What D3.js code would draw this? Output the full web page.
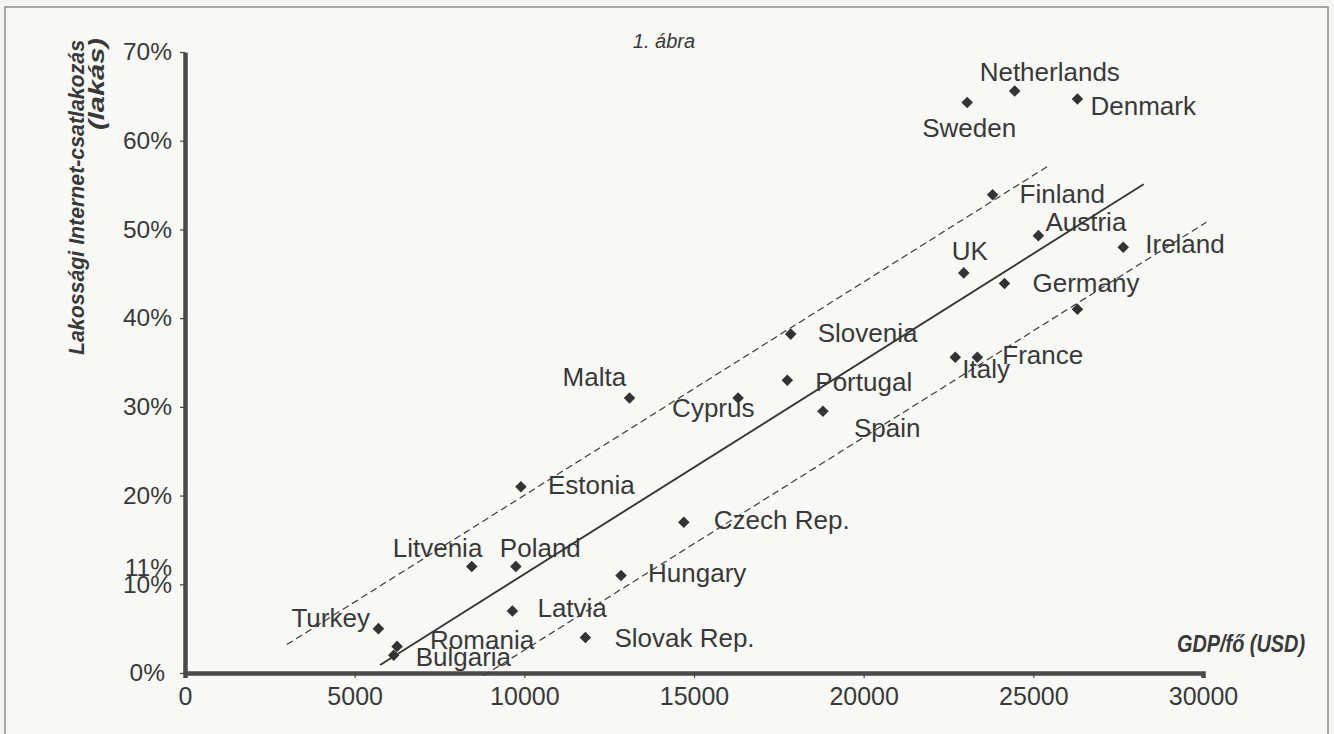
<!DOCTYPE html>
<html>
<head>
<meta charset="utf-8">
<script src="https://cdn.jsdelivr.net/npm/d3@7"></script>
<style>
  html, body { margin: 0; padding: 0; background: #f5f5f3; }
  svg { display: block; }
  text { font-family: "Liberation Sans", Arial, Helvetica, sans-serif; fill: #393939; }
</style>
</head>
<body>
<svg id="chart" width="1334" height="734"></svg>
<script>
// Countries: GDP per capita (USD) and share of households with Internet access
const countries = ["Turkey", "Bulgaria", "Romania", "Litvenia", "Poland", "Latvia", "Estonia",
  "Slovak Rep.", "Hungary", "Malta", "Czech Rep.", "Cyprus", "Portugal", "Slovenia", "Spain",
  "Italy", "France", "UK", "Finland", "Germany", "Austria", "", "Ireland", "Sweden",
  "Netherlands", "Denmark"];
const gdpPerCapita = [5700, 6150, 6250, 8450, 9750, 9650, 9900,
  11800, 12850, 13100, 14700, 16300, 17750, 17850, 18800,
  22700, 23350, 22950, 23800, 24150, 25150, 26300, 27650, 23050,
  24450, 26300];
const internetShare = [0.05, 0.02, 0.03, 0.12, 0.12, 0.07, 0.21,
  0.04, 0.11, 0.31, 0.17, 0.31, 0.33, 0.382, 0.295,
  0.356, 0.356, 0.451, 0.539, 0.439, 0.493, 0.41, 0.48, 0.643,
  0.656, 0.647];

// Regression line and its band (GDP, share)
const trendLine = [[5750, 0.009], [28250, 0.551]];
const upperBand = [[3000, 0.032], [25500, 0.573]];
const lowerBand = [[8800, -0.003], [30100, 0.508]];

// Axis ticks
const xTicks = [0, 5000, 10000, 15000, 20000, 25000, 30000];
const yTicks = [0, 0.1, 0.2, 0.3, 0.4, 0.5, 0.6, 0.7];
const yExtraLabel = { value: 0.11, text: "11%" };

// Label placement relative to each marker (dx, dy in px)
const labelOffsets = {
  "Turkey": [-87, -2], "Bulgaria": [22, 11], "Romania": [33, 3], "Litvenia": [-79, -10],
  "Poland": [-16, -10], "Latvia": [25, 6], "Estonia": [27, 7], "Slovak Rep.": [29, 9],
  "Hungary": [27, 7], "Malta": [-67, -12], "Czech Rep.": [30, 7], "Cyprus": [-66, 19],
  "Portugal": [28, 11], "Slovenia": [27, 8], "Spain": [31, 26], "Italy": [7, 21],
  "France": [25, 7], "UK": [-12, -13], "Finland": [27, 8], "Germany": [28, 8],
  "Austria": [7, -5], "Ireland": [22, 6], "Sweden": [-45, 34], "Netherlands": [-35, -10],
  "Denmark": [13, 16]
};

const svg = d3.select("#chart");
const W = 1334, H = 734;

// page frame
svg.append("rect").attr("x", 0).attr("y", 0).attr("width", W).attr("height", H).attr("fill", "#f4f4f2");
svg.append("rect").attr("x", 5).attr("y", 7).attr("width", 1323).attr("height", 740)
  .attr("fill", "#f8f8f6").attr("stroke", "#8c8c8c").attr("stroke-width", 1.5);

const x = d3.scaleLinear().domain([0, 30000]).range([185, 1203]);
const y = d3.scaleLinear().domain([0, 0.7]).range([673, 52]);

const ink = "#444";

// x axis
const xAxis = svg.append("g").attr("transform", `translate(0,${y(0)})`)
  .call(d3.axisBottom(x).tickValues(xTicks).tickSize(5).tickPadding(9).tickFormat(d3.format("d")));
xAxis.select(".domain").attr("stroke", "#4a4a4a").attr("stroke-width", 4.5);
xAxis.selectAll(".tick line").attr("stroke", ink).attr("stroke-width", 1.2);
xAxis.selectAll(".tick text").attr("font-size", 25).attr("fill", "#393939")
  .style("font-family", '"Liberation Sans", Arial, sans-serif');

// y axis
const yAxis = svg.append("g").attr("transform", `translate(${x(0)},0)`)
  .call(d3.axisLeft(y).tickValues(yTicks).tickSize(5).tickSizeOuter(0).tickPadding(8)
    .tickFormat(d3.format(".0%")));
yAxis.select(".domain").attr("stroke", "#4a4a4a").attr("stroke-width", 4.5);
yAxis.selectAll(".tick line").attr("stroke", ink).attr("stroke-width", 1.2);
yAxis.selectAll(".tick text").attr("font-size", 24.5).attr("fill", "#393939")
  .style("font-family", '"Liberation Sans", Arial, sans-serif');
// the zero label sits a little further left
yAxis.selectAll(".tick text").filter(d => d === 0).attr("dx", -7);

svg.append("text")
  .attr("x", x(0) - 13).attr("y", y(yExtraLabel.value) - 8)
  .attr("text-anchor", "end").attr("dominant-baseline", "central")
  .attr("font-size", 24.5).text(yExtraLabel.text);

// trend line and band
const line = d3.line().x(d => x(d[0])).y(d => y(d[1]));
svg.append("path").datum(trendLine).attr("d", line)
  .attr("fill", "none").attr("stroke", "#363636").attr("stroke-width", 1.9);
[upperBand, lowerBand].forEach(b => {
  svg.append("path").datum(b).attr("d", line)
    .attr("fill", "none").attr("stroke", "#3a3a3a").attr("stroke-width", 1.2)
    .attr("stroke-dasharray", "7,4");
});

// markers
const pts = countries.map((c, i) => ({ name: c, gdp: gdpPerCapita[i], share: internetShare[i] }));
const diamond = d3.symbol().type(d3.symbolDiamond2).size(85);
svg.append("g").selectAll("path").data(pts).join("path")
  .attr("d", diamond)
  .attr("transform", d => `translate(${x(d.gdp)},${y(d.share)})`)
  .attr("fill", "#333");

// country labels
svg.append("g").selectAll("text").data(pts.filter(d => d.name)).join("text")
  .attr("x", d => x(d.gdp) + labelOffsets[d.name][0])
  .attr("y", d => y(d.share) + labelOffsets[d.name][1])
  .attr("font-size", 26)
  .text(d => d.name);

// titles
svg.append("text").attr("x", 664).attr("y", 48).attr("text-anchor", "middle")
  .attr("font-size", 20).attr("font-style", "italic").text("1. ábra");

svg.append("text")
  .attr("transform", "translate(84,40) rotate(-90)")
  .attr("text-anchor", "end").attr("font-size", 22)
  .attr("font-weight", "bold").attr("font-style", "italic")
  .attr("textLength", 315).attr("lengthAdjust", "spacingAndGlyphs")
  .text("Lakossági Internet-csatlakozás");
svg.append("text")
  .attr("transform", "translate(104,38) rotate(-90)")
  .attr("text-anchor", "end").attr("font-size", 22)
  .attr("font-weight", "bold").attr("font-style", "italic")
  .attr("textLength", 92).attr("lengthAdjust", "spacingAndGlyphs")
  .text("(lakás)");

svg.append("text")
  .attr("x", 1177).attr("y", 652)
  .attr("font-size", 23).attr("font-weight", "bold").attr("font-style", "italic")
  .attr("textLength", 128).attr("lengthAdjust", "spacingAndGlyphs")
  .text("GDP/fő (USD)");
</script>
</body>
</html>
